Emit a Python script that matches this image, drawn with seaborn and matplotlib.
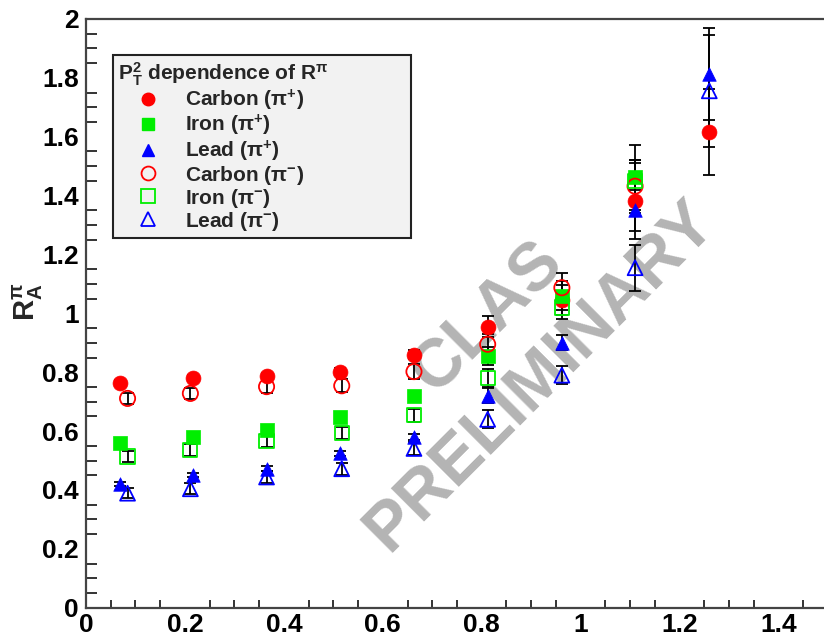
import numpy as np
import pandas as pd
import matplotlib
matplotlib.use("Agg")
import matplotlib.pyplot as plt
import seaborn as sns
from matplotlib.ticker import MultipleLocator, FuncFormatter
from matplotlib.lines import Line2D

# ---------------- data ----------------
x_pip = [0.069, 0.216, 0.365, 0.513, 0.663, 0.812, 0.962, 1.11, 1.26]
x_pim = [0.084, 0.211, 0.365, 0.517, 0.663, 0.812, 0.962, 1.11, 1.26]

carbon_pip = [0.764, 0.781, 0.788, 0.802, 0.859, 0.955, 1.046, 1.381, 1.616]
carbon_pip_err = [0.01, 0.01, 0.01, 0.012, 0.015, 0.035, 0.05, 0.13, 0.145]
iron_pip = [0.558, 0.580, 0.603, 0.648, 0.719, 0.855, 1.060, 1.462]
iron_pip_err = [0.01, 0.01, 0.01, 0.012, 0.015, 0.03, 0.05, 0.11]
lead_pip = [0.421, 0.450, 0.472, 0.524, 0.580, 0.720, 0.900, 1.350, 1.813]
lead_pip_err = [0.007, 0.007, 0.008, 0.008, 0.01, 0.025, 0.025, 0.07, 0.155]

carbon_pim = [0.711, 0.728, 0.751, 0.754, 0.802, 0.895, 1.087, 1.432]
carbon_pim_err = [0.02, 0.02, 0.022, 0.022, 0.025, 0.035, 0.05, 0.09]
iron_pim = [0.514, 0.535, 0.567, 0.594, 0.654, 0.780, 1.020, 1.450]
iron_pim_err = [0.018, 0.02, 0.02, 0.02, 0.022, 0.03, 0.04, 0.07]
lead_pim = [0.389, 0.404, 0.444, 0.472, 0.541, 0.640, 0.790, 1.155, 1.756]
lead_pim_err = [0.018, 0.018, 0.02, 0.02, 0.022, 0.03, 0.03, 0.078, 0.19]

labels = [r"Carbon (π$^{\mathbf{+}}$)", r"Iron (π$^{\mathbf{+}}$)", r"Lead (π$^{\mathbf{+}}$)",
          r"Carbon (π$^{\mathbf{-}}$)", r"Iron (π$^{\mathbf{-}}$)", r"Lead (π$^{\mathbf{-}}$)"]
x_ticks = [0, 0.2, 0.4, 0.6, 0.8, 1.0, 1.2, 1.4]
y_ticks = [0, 0.2, 0.4, 0.6, 0.8, 1.0, 1.2, 1.4, 1.6, 1.8, 2.0]

series = [
    (x_pip, carbon_pip, carbon_pip_err, "o", "#ff0000", True, 115),
    (x_pip, iron_pip, iron_pip_err, "s", "#00ee00", True, 95),
    (x_pip, lead_pip, lead_pip_err, "^", "#0000ff", True, 95),
    (x_pim, carbon_pim, carbon_pim_err, "o", "#ff0000", False, 120),
    (x_pim, iron_pim, iron_pim_err, "s", "#00ee00", False, 105),
    (x_pim, lead_pim, lead_pim_err, "^", "#0000ff", False, 115),
]

# ---------------- style ----------------
sns.set_theme(style="white")
plt.rcParams["font.family"] = ["Liberation Sans", "DejaVu Sans"]
plt.rcParams["font.weight"] = "bold"
plt.rcParams["mathtext.fontset"] = "custom"
plt.rcParams["mathtext.rm"] = "Liberation Sans:bold"
plt.rcParams["mathtext.bf"] = "Liberation Sans:bold"
plt.rcParams["mathtext.it"] = "Liberation Sans:bold"

W, H = 824, 638
fig = plt.figure(figsize=(W / 100, H / 100), dpi=100)
left, right, top, bottom = 86, 828, 19, 607.7
ax = fig.add_axes([left / W, (H - bottom) / H, (right - left) / W, (bottom - top) / H])
ax.set_facecolor("white")

# watermark
ax.text(0.812, 0.985, "CLAS", rotation=45, fontsize=49, fontweight="bold",
        color="#b4b4b4", ha="center", va="center", zorder=1,
        rotation_mode="anchor")
ax.text(0.918, 0.787, "PRELIMINARY", rotation=45, fontsize=49, fontweight="bold",
        color="#b4b4b4", ha="center", va="center", zorder=1,
        rotation_mode="anchor")

handles = []
for (xs, ys, es, m, c, filled, s), lab in zip(series, labels):
    n = len(ys)
    xx = xs[:n]
    ax.errorbar(xx, ys, yerr=es, fmt="none", ecolor="black", elinewidth=1.3,
                capsize=4, capthick=1.3, zorder=2)
    df = pd.DataFrame({"x": xx, "y": ys})
    if filled:
        sns.scatterplot(data=df, x="x", y="y", marker=m, s=s, color=c,
                        edgecolor=c, linewidth=0.5, ax=ax, zorder=3, legend=False)
        handles.append(Line2D([], [], marker=m, ls="none", color=c, mfc=c, mec=c,
                              markersize=9))
    else:
        sns.scatterplot(data=df, x="x", y="y", marker=m, s=s, facecolor="none",
                        edgecolor=c, linewidth=1.3, ax=ax, zorder=3, legend=False)
        handles.append(Line2D([], [], marker=m, ls="none", color=c, mfc="none",
                              mec=c, mew=1.3, markersize=10))

ax.set_xlim(0, 1.5)
ax.set_ylim(0, 2.0)
ax.set_xticks(x_ticks)
ax.set_yticks(y_ticks)
fmt = FuncFormatter(lambda v, p: "%g" % round(v, 2))
ax.xaxis.set_major_formatter(fmt)
ax.yaxis.set_major_formatter(fmt)
ax.xaxis.set_minor_locator(MultipleLocator(0.05))
ax.yaxis.set_minor_locator(MultipleLocator(0.05))
ax.tick_params(axis="x", which="major", direction="in", length=13, width=1.4,
               labelsize=19, pad=4, colors="#333333", labelcolor="black")
ax.tick_params(axis="x", which="minor", direction="in", length=6, width=1.4,
               colors="#333333", bottom=True)
ax.tick_params(axis="y", which="major", direction="in", length=16, width=1.4,
               labelsize=19, pad=5, colors="#333333", labelcolor="black")
ax.tick_params(axis="y", which="minor", direction="in", length=8, width=1.4,
               colors="#333333", left=True)
for lab in ax.get_xticklabels() + ax.get_yticklabels():
    lab.set_fontweight("bold")
for sp in ax.spines.values():
    sp.set_color("#444444")
    sp.set_linewidth(1.6)

ax.set_xlabel("")
ax.set_ylabel(r"$\mathbf{R^{\pi}_{A}}$", fontsize=21, labelpad=10)
ax.yaxis.set_label_coords(-0.055, 0.52)

# legend box: x 113-411 px, y 55-239 px
lx0 = (113 - left) / (right - left)
lx1 = (411 - left) / (right - left)
ly1 = (bottom - 55) / (bottom - top)
ly0 = (bottom - 239) / (bottom - top)
leg = ax.legend(handles, labels, loc="upper left",
                bbox_to_anchor=(lx0, ly0, lx1 - lx0, ly1 - ly0),
                mode="expand", borderaxespad=0, fontsize=15,
                title=r"$\mathbf{P^2_T}$ dependence of $\mathbf{R^{\pi}}$",
                title_fontsize=15, alignment="left", frameon=True, fancybox=False,
                handlelength=2.9, handletextpad=0.3, labelspacing=0.0,
                borderpad=0.25)
leg.get_frame().set_facecolor("#f2f2f2")
leg.get_frame().set_edgecolor("#222222")
leg.get_frame().set_linewidth(1.5)
leg.get_frame().set_alpha(1)
leg.set_zorder(5)
leg.get_title().set_fontweight("bold")
for t in leg.get_texts():
    t.set_fontweight("bold")

fig.savefig("out.png", dpi=100)
